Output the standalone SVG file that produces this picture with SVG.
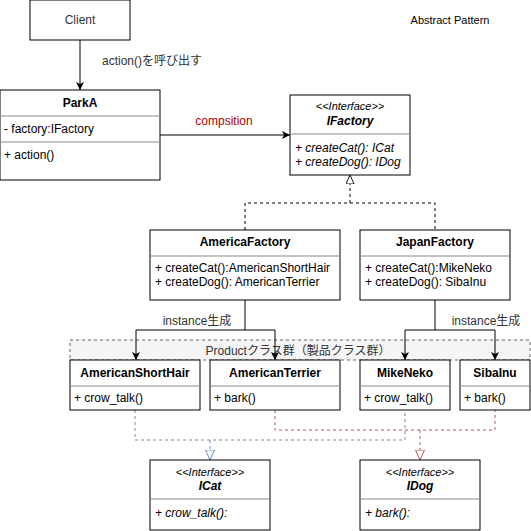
<svg xmlns="http://www.w3.org/2000/svg" width="531" height="531" viewBox="0 0 531 531">
<style>
text{font-family:"Liberation Sans","Noto Sans CJK JP",sans-serif;font-size:12px;fill:#000}
.c{text-anchor:middle}
.b{font-weight:bold}
.i{font-style:italic}
.box{fill:#fff;stroke:#000;stroke-width:1}
.sep{stroke:#888;stroke-width:1}
.ln{fill:none;stroke:#000;stroke-width:1}
.dsh{fill:none;stroke:#000;stroke-width:1;stroke-dasharray:3,3}
.blue{fill:none;stroke:#6C8EBF;stroke-width:1;stroke-dasharray:3,3}
.red{fill:none;stroke:#B85450;stroke-width:1;stroke-dasharray:3,3}
</style>
<defs>
<marker id="arr" viewBox="0 0 10 10" refX="10" refY="5" markerWidth="8" markerHeight="8" markerUnits="userSpaceOnUse" orient="auto"><path d="M0,0 L10,5 L0,10 L2.5,5 Z" fill="#000"/></marker>
<marker id="triK" viewBox="0 0 10 10" refX="10" refY="5" markerWidth="9" markerHeight="9" markerUnits="userSpaceOnUse" orient="auto"><path d="M0,0.5 L10,5 L0,9.5 Z" fill="#fff" stroke="#000"/></marker>
<marker id="triB" viewBox="0 0 10 10" refX="10" refY="5" markerWidth="10" markerHeight="10" markerUnits="userSpaceOnUse" orient="auto"><path d="M0,0.5 L10,5 L0,9.5 Z" fill="#fff" stroke="#6C8EBF"/></marker>
<marker id="triR" viewBox="0 0 10 10" refX="10" refY="5" markerWidth="10" markerHeight="10" markerUnits="userSpaceOnUse" orient="auto"><path d="M0,0.5 L10,5 L0,9.5 Z" fill="#fff" stroke="#B85450"/></marker>
</defs>

<text x="450" y="24" class="c" style="font-size:11px">Abstract Pattern</text>

<g id="product-group">
<rect x="70" y="340" width="460" height="20" fill="#f5f5f5" stroke="#666" stroke-dasharray="3,3"/>
<text x="298" y="355" class="c" style="fill:#333">Productクラス群（製品クラス群）</text>
</g>

<g id="connectors">
<path class="ln" d="M80,40 V90" marker-end="url(#arr)"/>
<text x="102" y="65" style="font-size:12px;fill:#333">action()を呼び出す</text>
<path class="ln" d="M160,135 H290" marker-end="url(#arr)"/>
<text x="224" y="125" class="c" style="fill:#B20000">compsition</text>
<path class="dsh" d="M245,230 V203 H435 V230 M350,203 V175" marker-end="url(#triK)"/>
<path class="ln" d="M245,300 V330 H136 V360" marker-end="url(#arr)"/>
<path class="ln" d="M245,330 H275 V360" marker-end="url(#arr)"/>
<text x="197" y="325" class="c" style="fill:#333">instance生成</text>
<path class="ln" d="M435,300 V330 H405 V360" marker-end="url(#arr)"/>
<path class="ln" d="M435,330 H495 V360" marker-end="url(#arr)"/>
<text x="486" y="325" class="c" style="fill:#333">instance生成</text>
<path class="blue" d="M135,410 V440 H405 V410"/>
<path class="blue" d="M210,440 V460" marker-end="url(#triB)"/>
<path class="red" d="M275,410 V430 H495 V410"/>
<path class="red" d="M420,430 V460" marker-end="url(#triR)"/>
</g>

<g id="client">
<rect class="box" x="30" y="0" width="100" height="40"/>
<text x="80" y="24" class="c" style="fill:#333">Client</text>
</g>

<g id="parkA">
<rect class="box" x="0" y="90" width="160" height="90"/>
<line class="sep" x1="0" y1="116" x2="160" y2="116"/>
<line class="sep" x1="0" y1="142" x2="160" y2="142"/>
<text x="80" y="107" class="c b">ParkA</text>
<text x="4" y="133">- factory:IFactory</text>
<text x="4" y="159">+ action()</text>
</g>

<g id="iFactory">
<rect class="box" x="290" y="95" width="120" height="80"/>
<line class="sep" x1="290" y1="134" x2="410" y2="134"/>
<text x="350" y="110" class="c i" style="font-size:11px">&lt;&lt;Interface&gt;&gt;</text>
<text x="350" y="125" class="c b i">IFactory</text>
<text x="295" y="152" class="i">+ createCat(): ICat</text>
<text x="295" y="166" class="i">+ createDog(): IDog</text>
</g>

<g id="americaFactory">
<rect class="box" x="150" y="230" width="190" height="70"/>
<line class="sep" x1="150" y1="256" x2="340" y2="256"/>
<text x="245" y="246" class="c b">AmericaFactory</text>
<text x="155" y="272">+ createCat():AmericanShortHair</text>
<text x="155" y="286">+ createDog(): AmericanTerrier</text>
</g>

<g id="japanFactory">
<rect class="box" x="360" y="230" width="150" height="70"/>
<line class="sep" x1="360" y1="256" x2="510" y2="256"/>
<text x="435" y="246" class="c b">JapanFactory</text>
<text x="365" y="272">+ createCat():MikeNeko</text>
<text x="365" y="286">+ createDog(): SibaInu</text>
</g>

<g id="americanShortHair">
<rect class="box" x="70" y="360" width="130" height="50"/>
<line class="sep" x1="70" y1="386" x2="200" y2="386"/>
<text x="135" y="377" class="c b">AmericanShortHair</text>
<text x="74" y="402">+ crow_talk()</text>
</g>

<g id="americanTerrier">
<rect class="box" x="210" y="360" width="130" height="50"/>
<line class="sep" x1="210" y1="386" x2="340" y2="386"/>
<text x="275" y="377" class="c b">AmericanTerrier</text>
<text x="214" y="402">+ bark()</text>
</g>

<g id="mikeNeko">
<rect class="box" x="360" y="360" width="90" height="50"/>
<line class="sep" x1="360" y1="386" x2="450" y2="386"/>
<text x="405" y="377" class="c b">MikeNeko</text>
<text x="364" y="402">+ crow_talk()</text>
</g>

<g id="sibaInu">
<rect class="box" x="460" y="360" width="70" height="50"/>
<line class="sep" x1="460" y1="386" x2="530" y2="386"/>
<text x="495" y="377" class="c b">SibaInu</text>
<text x="464" y="402">+ bark()</text>
</g>

<g id="iCat">
<rect class="box" x="150" y="460" width="120" height="70"/>
<line class="sep" x1="150" y1="499" x2="270" y2="499"/>
<text x="210" y="476" class="c i" style="font-size:11px">&lt;&lt;Interface&gt;&gt;</text>
<text x="210" y="490" class="c b i">ICat</text>
<text x="155" y="517" class="i">+ crow_talk():</text>
</g>

<g id="iDog">
<rect class="box" x="360" y="460" width="120" height="70"/>
<line class="sep" x1="360" y1="499" x2="480" y2="499"/>
<text x="420" y="476" class="c i" style="font-size:11px">&lt;&lt;Interface&gt;&gt;</text>
<text x="420" y="490" class="c b i">IDog</text>
<text x="365" y="517" class="i">+ bark():</text>
</g>
</svg>
